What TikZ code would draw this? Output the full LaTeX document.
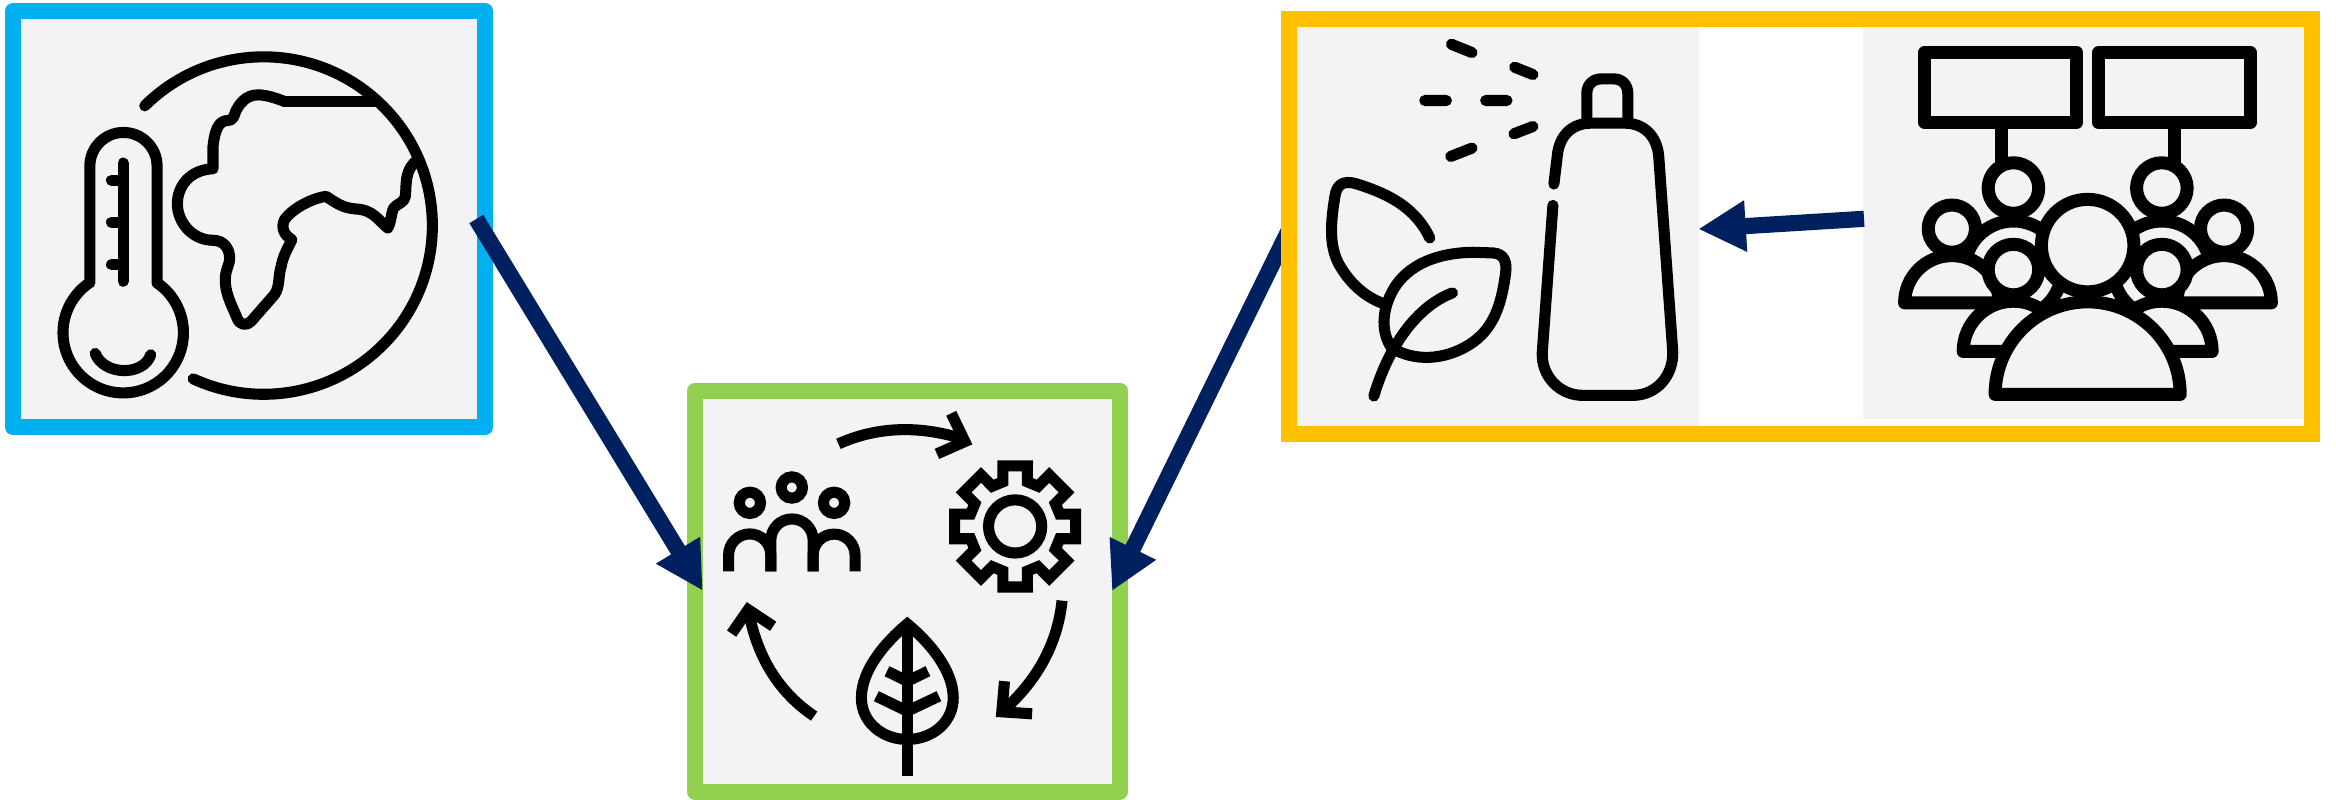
\documentclass[tikz,border=0pt]{standalone}
\usetikzlibrary{arrows.meta}
\definecolor{panelgrey}{HTML}{F3F3F5}
\definecolor{boxblue}{HTML}{00B0F0}
\definecolor{boxgreen}{HTML}{92D050}
\definecolor{boxyellow}{HTML}{FFC000}
\definecolor{navy}{HTML}{002060}
\tikzset{
  framebox/.style={draw,line width=4.55pt,fill=panelgrey,inner sep=0pt,outer sep=0pt,line join=round},
  panel/.style={fill=panelgrey,inner sep=0pt,outer sep=0pt},
  flow/.style={draw=navy,line width=4.6pt,-{Triangle[length=13.5pt,width=13.7pt]}},
  cropunits/.style={x=0.003333cm,y=-0.003333cm},
  roundicon/.style={draw=black,line width=3.15pt,line cap=round,line join=round},
  sharpicon/.style={draw=black,line width=3.15pt,line cap=butt,line join=miter},
  crowd/.style={draw=black,line width=3.7pt,line join=round,fill=panelgrey},
}
\begin{document}
\begin{tikzpicture}[x=0.01cm,y=-0.01cm]
\useasboundingbox (0,0) rectangle (2336,799);
% frames
\node[framebox,draw=boxblue,minimum width=4.72cm,minimum height=4.16cm] (climate) at (249,219) {};
\node[framebox,draw=boxgreen,minimum width=4.25cm,minimum height=4.005cm] (cycle) at (907.5,591.2) {};
\coordinate (a1s) at (476.3,219);
\coordinate (a1e) at (702.7,590.7);
\coordinate (a2s) at (1288,232);
\coordinate (a2e) at (1112,591);
\coordinate (a3s) at (1864,218.8);
\coordinate (a3e) at (1698.3,229);
\draw[flow] (a1s) -- (a1e);
\draw[flow] (a2s) -- (a2e);
\node[framebox,draw=boxyellow,fill=white,line join=miter,minimum width=10.23cm,minimum height=4.15cm] (practice) at (1800.5,226.5) {};
\node[panel,minimum width=4.02cm,minimum height=3.99cm] (sprayp) at (1498,226.5) {};
\node[panel,minimum width=4.405cm,minimum height=3.92cm] (crowdp) at (2083.75,223) {};
\draw[flow] (a3s) -- (a3e);

% thermometer and globe
\begin{scope}[shift={(0,0)},cropunits]
\draw[roundicon] (435,318) arc[start angle=-134.8,end angle=114.7,radius=507];
\draw[roundicon,line cap=butt] (858,306) -- (1130,306);
\draw[roundicon] (858,306) .. controls (830,295) and (800,285) .. (775,285) .. controls (740,285) and (720,310) .. (708,335) .. controls (703,350) and (700,362) .. (685,362) .. controls (655,362) and (645,395) .. (640,440) -- (640,507) .. controls (570,510) and (533,560) .. (533,612) .. controls (533,670) and (580,722) .. (640,722) .. controls (675,722) and (690,750) .. (690,775) .. controls (690,800) and (675,810) .. (677,850) .. controls (680,890) and (700,925) .. (712,955) .. controls (720,978) and (742,980) .. (755,965) -- (825,885) .. controls (842,860) and (835,830) .. (845,800) .. controls (850,770) and (865,745) .. (877,720) .. controls (850,705) and (845,680) .. (855,660) .. controls (880,625) and (940,595) .. (980,590) .. controls (1010,610) and (1030,625) .. (1070,628) .. controls (1120,630) and (1135,660) .. (1165,685) .. controls (1175,670) and (1175,640) .. (1183,625) .. controls (1195,610) and (1215,610) .. (1218,590) .. controls (1222,550) and (1215,510) .. (1255,480);
\draw[roundicon] (270,850) -- (270,499) arc[start angle=180,end angle=360,radius=101] -- (472,850) arc[start angle=-55.8,end angle=235.8,radius=181] -- cycle;
\draw[roundicon] (370,490) -- (370,845);
\draw[roundicon] (335,542) -- (370,542) (335,668) -- (370,668) (335,795) -- (370,795);
\draw[roundicon] (286,1062) .. controls (312,1128) and (430,1132) .. (453,1066);
\end{scope}

% cycle
\begin{scope}[shift={(680,380)},cropunits]
\draw[sharpicon] (476,192) .. controls (590,140) and (720,135) .. (852,178);
\draw[sharpicon] (815,100) -- (856,185) -- (772,222);
\draw[sharpicon] (1148,663) .. controls (1135,790) and (1075,900) .. (975,990);
\draw[sharpicon] (975,905) -- (967,997) -- (1058,1003);
\draw[sharpicon] (403,1010) .. controls (300,940) and (235,840) .. (207,700);
\draw[sharpicon] (155,762) -- (205,690) -- (280,740);
\draw[sharpicon] (210,369) circle[radius=32] (336,323) circle[radius=32] (463,369) circle[radius=32];
\draw[sharpicon] (146,575) -- (146,526) arc[start angle=180,end angle=360,radius=63.5] -- (273,575);
\draw[sharpicon] (400,575) -- (400,526) arc[start angle=180,end angle=360,radius=63] -- (526,526) -- (526,575);
\draw[sharpicon] (273,575) -- (273,481) arc[start angle=180,end angle=360,radius=63.5] -- (400,575);
\begin{scope}[shift={(1007,440)}]
\draw[sharpicon] (0,0) circle[radius=80];
\draw[sharpicon] (-15.4:139) \foreach \a in {0,45,...,315} { -- (\a-15.4:139) -- (\a-11.5:185.7) -- (\a+11.5:185.7) -- (\a+15.4:139) } -- cycle;
\end{scope}
\draw[sharpicon] (683,733) .. controls (620,785) and (545,870) .. (545,955) .. controls (545,1030) and (610,1080) .. (683,1080) .. controls (756,1080) and (821,1030) .. (821,955) .. controls (821,870) and (746,785) .. (683,733) -- cycle;
\draw[sharpicon] (683,725) -- (683,1190);
\draw[sharpicon] (622,875) -- (683,905) -- (745,875);
\draw[sharpicon] (590,950) -- (683,995) -- (778,950);
\end{scope}

% leaves and spray bottle
\begin{scope}[shift={(1280,0)},cropunits]
\draw[roundicon] (515,133) -- (577,158) (705,202) -- (760,224) (435,302) -- (500,302) (618,302) -- (682,302) (760,380) -- (703,402) (577,445) -- (513,470);
\draw[roundicon] (922,360) -- (922,280) .. controls (922,255) and (940,237) .. (965,237) -- (1003,237) .. controls (1028,237) and (1045,255) .. (1045,280) -- (1045,360);
\draw[roundicon] (823,553) -- (833,470) .. controls (838,410) and (875,370) .. (935,370) -- (1035,370) .. controls (1095,370) and (1133,410) .. (1138,470) -- (1180,1055) .. controls (1183,1130) and (1130,1188) .. (1060,1188) -- (910,1188) .. controls (840,1188) and (785,1130) .. (788,1060) -- (820,617);
\draw[roundicon] (450,715) .. controls (405,620) and (320,580) .. (225,551) .. controls (190,542) and (170,555) .. (165,590) .. controls (150,680) and (150,740) .. (175,790) .. controls (205,845) and (250,890) .. (310,912);
\draw[roundicon] (335,1045) .. controls (305,1000) and (305,940) .. (335,880) .. controls (370,810) and (450,760) .. (580,758) -- (640,760) .. controls (675,762) and (682,790) .. (678,820) .. controls (665,920) and (640,990) .. (570,1035) .. controls (490,1085) and (400,1085) .. (335,1045) -- cycle;
\draw[roundicon] (282,1190) .. controls (320,1060) and (400,925) .. (518,880);
\end{scope}

% crowd
\begin{scope}[shift={(1860,0)},cropunits]
\draw[crowd] (195,157) rectangle (650,369);
\draw[crowd] (718,157) rectangle (1172,369);
\draw[crowd] (424,369) -- (424,500) (945,369) -- (945,500);
\draw[crowd] (461,810) circle[radius=146] (907,810) circle[radius=146];
\draw[crowd] (461,565) circle[radius=76] (907,565) circle[radius=76];
\draw[crowd] (134,910) arc[start angle=180,end angle=360,radius=142] -- cycle;
\draw[crowd] (1236,910) arc[start angle=0,end angle=-180,radius=142] -- cycle;
\draw[crowd] (276,687) circle[radius=71] (1094,687) circle[radius=71];
\draw[crowd] (461,810) circle[radius=76] (907,810) circle[radius=76];
\draw[crowd] (310,1056) arc[start angle=180,end angle=360,radius=151] -- cycle;
\draw[crowd] (1058,1056) arc[start angle=0,end angle=-180,radius=151] -- cycle;
\draw[crowd] (684,738) circle[radius=139];
\draw[crowd] (406,1185) arc[start angle=180,end angle=360,radius=278] -- cycle;
\end{scope}
\end{tikzpicture}
\end{document}
